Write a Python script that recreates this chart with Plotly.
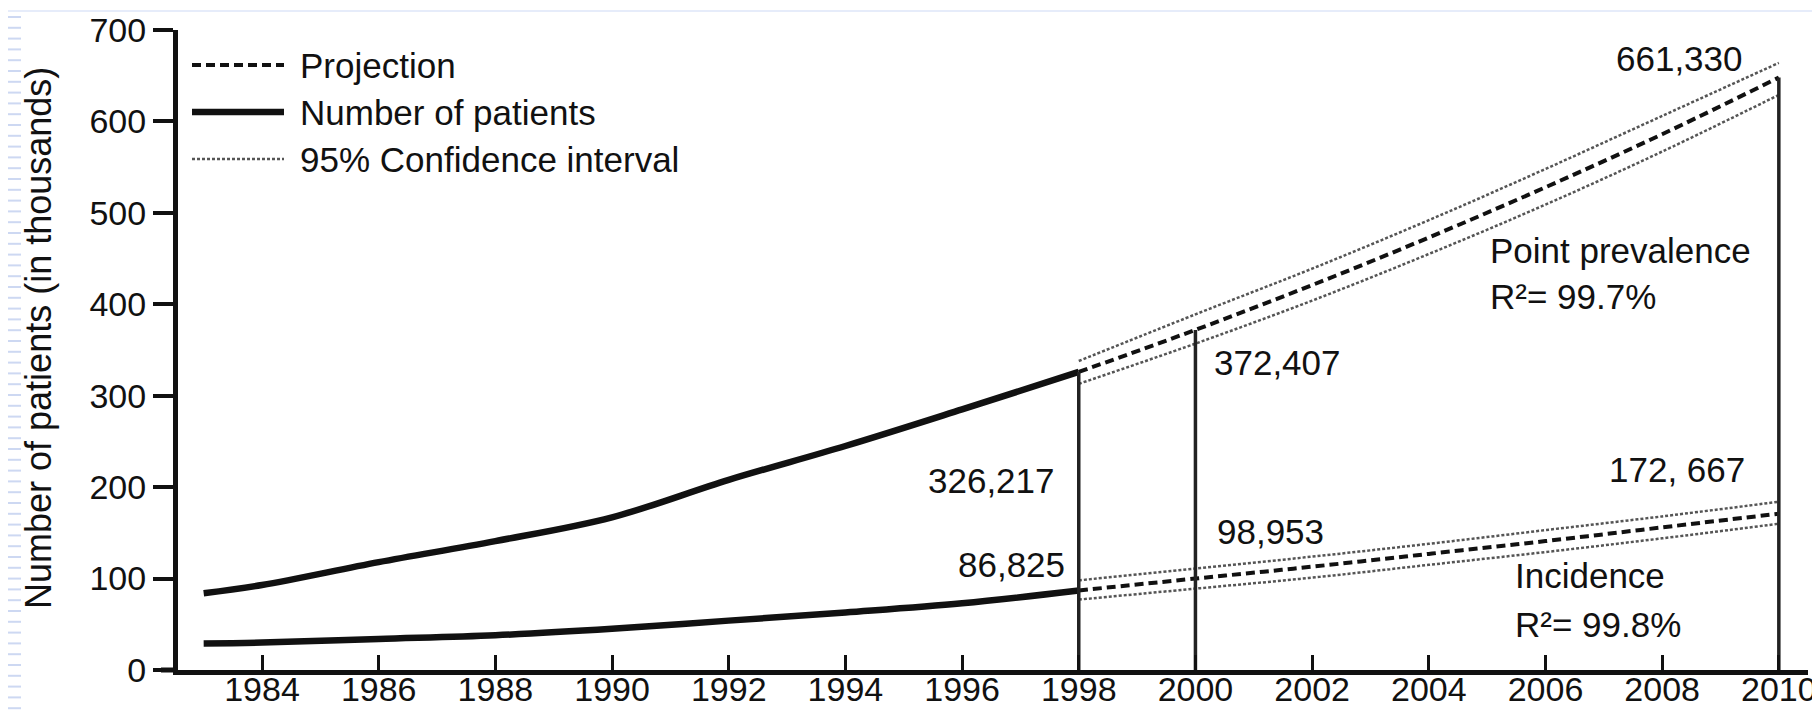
import plotly.graph_objects as go

# ---------------- data ----------------
obs_years = [1983, 1984, 1986, 1988, 1990, 1992, 1994, 1996, 1998]
prevalence_obs = [84, 93, 118, 141, 167, 208, 245, 285, 326]
incidence_obs = [29, 30, 34, 38, 45, 54, 63, 73, 87]

proj_years = [1998, 2000, 2002, 2004, 2006, 2008, 2010]
prevalence_proj = [326, 372, 421, 473, 528, 586, 648]
prevalence_hi = [338, 389, 439, 492, 548, 606, 664]
prevalence_lo = [313, 357, 404, 455, 509, 567, 629]

incidence_proj = [87, 100, 113, 127, 141, 156, 171]
incidence_hi = [98, 111, 124, 138, 153, 168, 184]
incidence_lo = [77, 89, 101, 115, 129, 144, 160]

marker_years = [1998, 2000, 2010]
marker_heights = [326, 372, 648]

x_ticks = [1984, 1986, 1988, 1990, 1992, 1994, 1996, 1998, 2000, 2002, 2004, 2006, 2008, 2010]
y_ticks = [0, 100, 200, 300, 400, 500, 600, 700]

value_labels = ["661,330", "372,407", "326,217", "86,825", "98,953", "172, 667"]
value_label_x = [2008.3, 2001.4, 1996.5, 1996.85, 2001.28, 2008.26]
value_label_y = [669, 336, 207, 115, 152, 219]

series_labels = ["Point prevalence", "R²= 99.7%", "Incidence", "R²= 99.8%"]
series_label_x = [2005.02, 2005.02, 2005.45, 2005.45]
series_label_y = [459, 409, 103, 50]

legend_labels = ["Projection", "Number of patients", "95% Confidence interval"]

FONT = "Liberation Sans, Arial, sans-serif"
FS = 35
TFS = 34
BLACK = "#111111"
CI_COLOR = "#555555"

# plot-area geometry in pixels (used only to place decorations in paper units)
L, R, T, B = 170, 20, 22, 49
W, H = 1820, 711
PW, PH = W - L - R, H - T - B


def px_x(px):
    return (px - L) / PW


def px_y(py):
    return (H - B - py) / PH


fig = go.Figure()

# CI lines (dotted)
for ys in (prevalence_hi, prevalence_lo, incidence_hi, incidence_lo):
    fig.add_trace(go.Scatter(x=proj_years, y=ys, mode="lines",
                             line=dict(color=CI_COLOR, width=2.5, dash="3px,2px", shape="spline"),
                             showlegend=False, hoverinfo="skip"))
# projections (dashed)
for ys in (prevalence_proj, incidence_proj):
    fig.add_trace(go.Scatter(x=proj_years, y=ys, mode="lines",
                             line=dict(color=BLACK, width=4, dash="9px,5px", shape="spline"),
                             showlegend=False, hoverinfo="skip"))
# observed (solid, thick)
for ys in (prevalence_obs, incidence_obs):
    fig.add_trace(go.Scatter(x=obs_years, y=ys, mode="lines",
                             line=dict(color=BLACK, width=6.5, shape="spline"),
                             showlegend=False, hoverinfo="skip"))
# vertical marker lines
for xv, hv in zip(marker_years, marker_heights):
    fig.add_trace(go.Scatter(x=[xv, xv], y=[0, hv], mode="lines",
                             line=dict(color="#222222", width=3.5),
                             showlegend=False, hoverinfo="skip"))

annotations = []
for t, xv, yv in zip(value_labels, value_label_x, value_label_y):
    annotations.append(dict(x=xv, y=yv, xref="x", yref="y", text=t, showarrow=False,
                            xanchor="center", yanchor="middle",
                            font=dict(family=FONT, size=FS, color=BLACK)))
for t, xv, yv in zip(series_labels, series_label_x, series_label_y):
    annotations.append(dict(x=xv, y=yv, xref="x", yref="y", text=t, showarrow=False,
                            xanchor="left", yanchor="middle",
                            font=dict(family=FONT, size=FS, color=BLACK)))

# custom legend
leg_py = [57, 104, 151]
leg_styles = [dict(color=BLACK, width=4, dash="9px,5px"),
              dict(color=BLACK, width=6.5),
              dict(color=CI_COLOR, width=2.5, dash="3px,2px")]
shapes = []
for py, st, t in zip(leg_py, leg_styles, legend_labels):
    shapes.append(dict(type="line", xref="paper", yref="paper",
                       x0=px_x(184), x1=px_x(276), y0=px_y(py), y1=px_y(py), line=st))
    annotations.append(dict(x=px_x(290), y=px_y(py), xref="paper", yref="paper", text=t,
                            showarrow=False, xanchor="left", yanchor="middle",
                            font=dict(family=FONT, size=FS, color=BLACK)))

# y-axis title
annotations.append(dict(x=px_x(30), y=px_y(330), xref="paper", yref="paper",
                        text="Number of patients (in thousands)", textangle=-90,
                        showarrow=False, xanchor="center", yanchor="middle",
                        font=dict(family=FONT, size=36, color=BLACK)))

# x-axis line extension to the left of the y-axis
shapes.append(dict(type="line", xref="paper", yref="paper", x0=px_x(153), x1=0, y0=0, y1=0,
                   line=dict(color=BLACK, width=5)))

# faint slide-background decorations (light blue ruled marks at the edges)
DECO = "#cdd8f2"
shapes.append(dict(type="line", xref="paper", yref="paper", x0=px_x(0), x1=px_x(1805),
                   y0=px_y(3), y1=px_y(3), line=dict(color="#e6ecfa", width=2), layer="below"))
py = 9.0
while py < H:
    shapes.append(dict(type="line", xref="paper", yref="paper", x0=px_x(0), x1=px_x(13),
                       y0=px_y(py), y1=px_y(py), line=dict(color=DECO, width=2), layer="below"))
    shapes.append(dict(type="line", xref="paper", yref="paper", x0=px_x(1805), x1=px_x(1820),
                       y0=px_y(py), y1=px_y(py), line=dict(color=DECO, width=2), layer="below"))
    py += 10.8

fig.update_layout(
    width=W, height=H,
    margin=dict(l=L, r=R, t=T, b=B, autoexpand=False),
    paper_bgcolor="white", plot_bgcolor="white",
    showlegend=False,
    annotations=annotations,
    shapes=shapes,
    xaxis=dict(range=[1982.56, 2010.5], tickmode="array", tickvals=x_ticks,
               ticktext=[str(v) for v in x_ticks], automargin=False,
               ticks="inside", ticklen=15, tickwidth=3, tickcolor=BLACK,
               ticklabelstandoff=-15, ticklabeloverflow="allow",
               showline=True, linecolor=BLACK, linewidth=5,
               showgrid=False, zeroline=False,
               tickfont=dict(family=FONT, size=TFS, color=BLACK)),
    yaxis=dict(range=[0, 700], tickmode="array", tickvals=y_ticks, automargin=False,
               ticks="outside", ticklen=20, tickwidth=4, tickcolor=BLACK,
               ticklabeloverflow="allow",
               showline=True, linecolor=BLACK, linewidth=5,
               showgrid=False, zeroline=False,
               tickfont=dict(family=FONT, size=TFS, color=BLACK)),
)

fig.write_html("out.html")
